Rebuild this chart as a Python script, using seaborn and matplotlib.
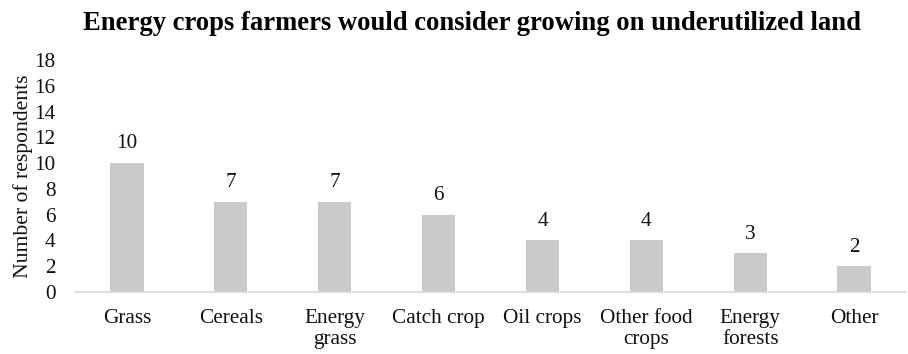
import matplotlib
matplotlib.use("Agg")
import matplotlib.pyplot as plt
import seaborn as sns
import pandas as pd

categories = ["Grass", "Cereals", "Energy\ngrass", "Catch crop", "Oil crops",
              "Other food\ncrops", "Energy\nforests", "Other"]
values = [10, 7, 7, 6, 4, 4, 3, 2]
yticks = [0, 2, 4, 6, 8, 10, 12, 14, 16, 18]

sns.set_style("white")
plt.rcParams['font.family'] = ['Liberation Serif', 'DejaVu Serif']

df = pd.DataFrame({"cat": categories, "val": values})

fig = plt.figure(figsize=(9.08, 3.54), dpi=100)
ax = fig.add_axes([75/908, 62/354, 831/908, 232/354])
sns.barplot(data=df, x="cat", y="val", color="#cacaca", width=0.32,
            saturation=1, ax=ax, edgecolor="none")
ax.set_ylim(0, 18)
ax.set_xlim(-0.5, len(categories) - 0.5)
ax.set_yticks(yticks)
ax.tick_params(axis='both', length=0, labelsize=15.3, colors="#111111")
ax.tick_params(axis='y', pad=14)
ax.tick_params(axis='x', pad=12)
for s in ["top", "right", "left"]:
    ax.spines[s].set_visible(False)
ax.spines["bottom"].set_color("#d9d9d9")
ax.spines["bottom"].set_linewidth(1.2)
ax.set_xlabel("")
ax.set_ylabel("Number of respondents", fontsize=15.6, color="#111111", labelpad=1)
for c in ax.containers:
    ax.bar_label(c, padding=7, fontsize=15.3, color="#111111")
fig.suptitle("Energy crops farmers would consider growing on underutilized land",
             fontsize=19.2, fontweight="bold", y=0.968, x=0.52, color="#000000")
fig.savefig("out.png", dpi=100)
